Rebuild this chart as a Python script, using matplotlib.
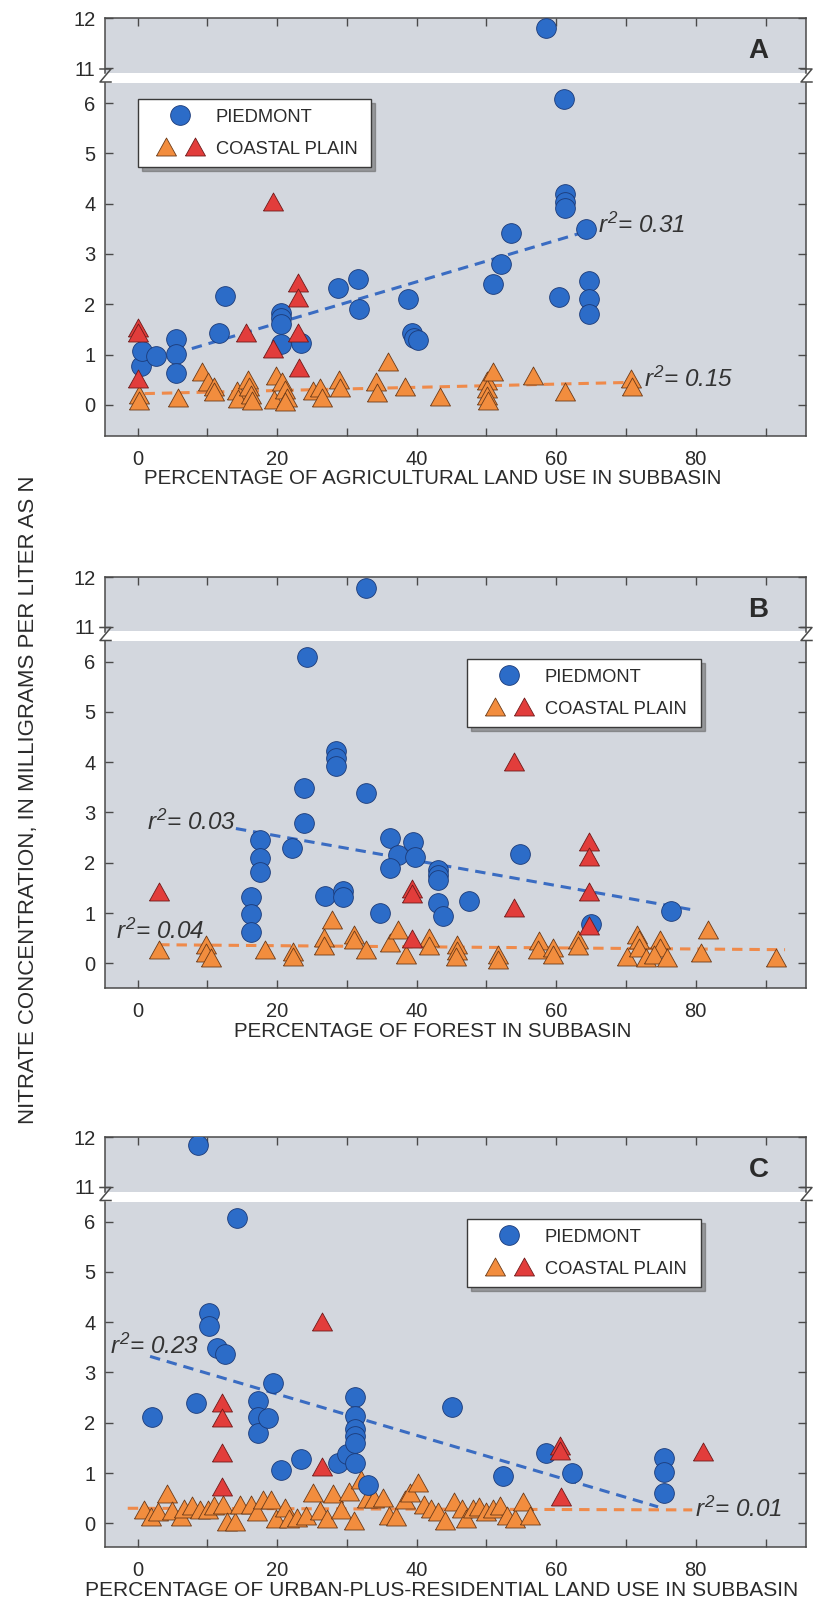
import matplotlib
matplotlib.use('Agg')
import matplotlib.pyplot as plt
from matplotlib.lines import Line2D
from matplotlib.legend_handler import HandlerTuple
import numpy as np

plt.rcParams['font.family'] = ['Liberation Sans', 'DejaVu Sans']
plt.rcParams['mathtext.fontset'] = 'custom'
plt.rcParams['mathtext.rm'] = 'Liberation Sans:italic'
plt.rcParams['mathtext.it'] = 'Liberation Sans:italic'
plt.rcParams['lines.scale_dashes'] = False

# ---------------- data ----------------
# Panel A: agricultural land use
a_blue_x = [0.5, 0.7, 2.65, 5.5, 5.5, 5.5, 11.7, 12.6, 20.6, 20.6, 20.6, 20.6, 23.4,
            28.8, 31.6, 31.7, 38.7, 39.3, 39.6, 40.2, 51.0, 52.1, 53.5, 60.4, 61.1,
            61.2, 61.2, 61.2, 64.3, 64.7, 64.7, 64.7, 58.5]
a_blue_y = [0.78, 1.07, 0.98, 1.30, 1.02, 0.63, 1.42, 2.16, 1.82, 1.72, 1.60, 1.21, 1.22,
            2.33, 2.51, 1.91, 2.10, 1.43, 1.33, 1.29, 2.40, 2.80, 3.41, 2.15, 6.09,
            4.20, 4.03, 3.91, 3.49, 2.46, 2.10, 1.80, 11.80]
a_orange_x = [0.2, 0.2, 5.8, 9.3, 10.1, 10.9, 11.0, 14.3, 14.4, 15.8, 16.0, 16.3, 16.4,
              19.6, 19.9, 20.7, 21.1, 21.4, 21.2, 25.2, 26.1, 26.4, 28.9, 29.0, 34.2,
              34.3, 35.9, 38.3, 43.3, 50.1, 50.1, 50.1, 50.2, 51.0, 56.7, 61.2, 70.7, 70.8]
a_orange_y = [0.20, 0.07, 0.13, 0.65, 0.45, 0.36, 0.25, 0.28, 0.12, 0.50, 0.36, 0.20, 0.08,
              0.10, 0.58, 0.46, 0.30, 0.14, 0.05, 0.27, 0.34, 0.14, 0.50, 0.34, 0.45,
              0.24, 0.86, 0.35, 0.15, 0.48, 0.32, 0.17, 0.08, 0.65, 0.58, 0.25, 0.52, 0.35]
a_red_x = [0.0, 0.0, 0.1, 15.6, 19.4, 19.4, 23.0, 23.0, 23.0, 23.1]
a_red_y = [1.53, 1.43, 0.52, 1.42, 4.03, 1.12, 2.43, 2.13, 1.42, 0.74]

# Panel B: forest
b_blue_x = [32.7, 24.25, 28.4, 28.4, 28.4, 23.9, 32.7, 23.9, 17.5, 17.5, 17.5, 22.2,
            16.2, 16.2, 16.2, 26.9, 29.4, 29.4, 34.7, 36.2, 37.3, 36.2, 39.5, 39.7,
            43.0, 43.0, 43.0, 43.1, 43.8, 47.5, 54.8, 65.0, 76.5]
b_blue_y = [11.78, 6.09, 4.23, 4.09, 3.93, 3.49, 3.39, 2.79, 2.45, 2.09, 1.81, 2.30,
            1.31, 0.99, 0.62, 1.33, 1.43, 1.31, 1.01, 2.49, 2.16, 1.89, 2.42, 2.11,
            1.85, 1.75, 1.65, 1.21, 0.94, 1.23, 2.18, 0.79, 1.05]
b_orange_x = [3.1, 9.8, 9.8, 10.5, 18.3, 22.3, 22.3, 26.7, 26.7, 27.8, 31.0, 31.0, 32.7,
              36.2, 37.4, 38.5, 41.8, 41.8, 45.8, 45.8, 45.7, 51.6, 51.6, 57.5, 57.4,
              59.5, 59.5, 63.1, 63.1, 71.6, 71.9, 70.2, 71.9, 72.9, 74.9, 74.9, 74.0,
              75.9, 80.7, 81.7, 91.5]
b_orange_y = [0.27, 0.37, 0.20, 0.10, 0.27, 0.23, 0.13, 0.50, 0.34, 0.87, 0.57, 0.47, 0.27,
              0.40, 0.67, 0.17, 0.50, 0.34, 0.37, 0.24, 0.13, 0.17, 0.07, 0.44, 0.27,
              0.30, 0.17, 0.47, 0.34, 0.57, 0.47, 0.13, 0.30, 0.10, 0.47, 0.30, 0.17,
              0.10, 0.20, 0.67, 0.10]
b_red_x = [3.1, 39.3, 39.3, 39.3, 54.0, 54.0, 64.7, 64.7, 64.7, 64.7]
b_red_y = [1.41, 1.48, 1.38, 0.48, 4.00, 1.11, 2.42, 2.12, 1.41, 0.74]

# Panel C: urban-plus-residential
c_blue_x = [8.6, 14.3, 10.3, 10.3, 11.4, 12.6, 2.1, 8.4, 19.4, 17.2, 17.2, 17.2, 18.7,
            20.5, 23.4, 28.7, 30.0, 31.2, 31.2, 31.2, 31.2, 31.2, 31.2, 33.1, 45.0,
            52.4, 58.5, 62.2, 75.4, 75.4, 75.4]
c_blue_y = [11.83, 6.07, 4.19, 3.92, 3.48, 3.37, 2.12, 2.39, 2.79, 2.44, 2.11, 1.79, 2.10,
            1.07, 1.27, 1.21, 1.38, 2.52, 2.14, 1.87, 1.74, 1.60, 1.20, 0.77, 2.31,
            0.95, 1.40, 1.01, 1.30, 1.02, 0.60]
c_orange_x = [0.9, 2.0, 3.0, 4.2, 4.9, 6.3, 6.7, 7.8, 8.9, 10.1, 10.9, 12.2, 12.8, 14.0,
              14.7, 16.2, 17.1, 18.0, 19.1, 19.8, 21.2, 21.7, 22.8, 24.1, 25.2, 26.2,
              27.1, 28.0, 29.1, 30.3, 31.0, 32.0, 32.9, 33.9, 35.2, 36.0, 37.1, 38.3,
              39.1, 40.2, 41.1, 42.1, 43.1, 44.1, 45.3, 46.5, 47.1, 48.1, 49.0, 50.0,
              51.0, 51.9, 52.9, 54.1, 55.2, 56.2]
c_orange_y = [0.26, 0.12, 0.22, 0.59, 0.24, 0.12, 0.29, 0.34, 0.27, 0.27, 0.34, 0.36, 0.03,
              0.03, 0.37, 0.36, 0.22, 0.46, 0.46, 0.09, 0.30, 0.09, 0.10, 0.14, 0.61,
              0.24, 0.09, 0.59, 0.26, 0.62, 0.05, 0.86, 0.48, 0.48, 0.50, 0.15, 0.12,
              0.46, 0.61, 0.81, 0.36, 0.28, 0.22, 0.05, 0.42, 0.28, 0.09, 0.28, 0.32,
              0.22, 0.28, 0.34, 0.14, 0.09, 0.42, 0.14]
c_red_x = [12.1, 12.1, 12.1, 12.1, 26.4, 26.4, 60.5, 60.6, 60.7, 81.1]
c_red_y = [2.39, 2.09, 1.40, 0.72, 4.00, 1.12, 1.54, 1.44, 0.52, 1.42]

# regression lines: (x start, x end, intercept, slope)
a_blue_fit = (5.4, 64.2, 0.798, 0.0412)
a_orange_fit = (1.0, 70.5, 0.22, 0.0032)
b_blue_fit = (14.1, 79.2, 3.029, -0.0247)
b_orange_fit = (3.1, 92.8, 0.3735, -0.0011)
c_blue_fit = (1.8, 74.6, 3.394, -0.0411)
c_orange_fit = (-1.4, 79.5, 0.2995, -0.0004)

# r-squared labels: (text, x, y)
a_r2 = [('0.31', 66.0, 3.57), ('0.15', 72.6, 0.50)]
b_r2 = [('0.03', 1.3, 2.80), ('0.04', -3.1, 0.64)]
c_r2 = [('0.23', -3.9, 3.53), ('0.01', 79.9, 0.28)]

x_labels = ['PERCENTAGE OF AGRICULTURAL LAND USE IN SUBBASIN',
            'PERCENTAGE OF FOREST IN SUBBASIN',
            'PERCENTAGE OF URBAN-PLUS-RESIDENTIAL LAND USE IN SUBBASIN']
y_label = 'NITRATE CONCENTRATION, IN MILLIGRAMS PER LITER AS N'

# ---------------- style ----------------
BG = '#d3d7de'
BLUE, BLUE_EDGE = '#2c6cc8', '#1b3a78'
ORANGE, ORANGE_EDGE = '#f28d3e', '#6b3a18'
RED, RED_EDGE = '#e23d3b', '#6e1a1a'
BLUE_LINE, ORANGE_LINE = '#3a6cc2', '#ef8a4a'
TXT = '#2b2b2b'
SPINE = '#4a4a4a'
TRI = [(-1, -0.85), (1, -0.85), (0, 0.95), (-1, -0.85)]
CIRCLE_MS = 14.2
TRI_MS = 14.4
LEG_FS = 13.2

W, H = 815, 1610
LEFT, RIGHT = 105, 806
XLIM = (-4.66, 95.8)
fig = plt.figure(figsize=(W / 100, H / 100), dpi=100)


def px_axes(left, top, right, bottom):
    return fig.add_axes([left / W, 1 - bottom / H, (right - left) / W, (bottom - top) / H])


def fig_line(xs, ys):
    fig.add_artist(Line2D([x / W for x in xs], [1 - y / H for y in ys],
                          transform=fig.transFigure, color=SPINE, lw=1.1))


def draw_panel(top, bottom, ybot, blue, orange, red, fits, r2, letter, legend_xy,
               xlabel, xlabel_x, xlabel_fs):
    up_bot = top + 54.5
    lo_top = up_bot + 10
    upper = px_axes(LEFT, top, RIGHT, up_bot)
    lower = px_axes(LEFT, lo_top, RIGHT, bottom)
    upper.set_ylim(10.9, 12.0)
    lower.set_ylim(ybot, 6.4)
    for ax in (upper, lower):
        ax.set_facecolor(BG)
        ax.set_xlim(*XLIM)
        for s in ax.spines.values():
            s.set_color(SPINE)
            s.set_linewidth(1.1)
        ax.set_xticks(np.arange(0, 81, 20))
        ax.set_xticks(np.arange(10, 91, 20), minor=True)
        ax.tick_params(which='both', direction='in', length=6, width=1.0, color=SPINE,
                       labelsize=14.5, labelcolor=TXT, left=True, right=True, pad=7)
        # fits
        for (x0, x1, b0, b1), col in zip(fits, (BLUE_LINE, ORANGE_LINE)):
            xs = np.array([x0, x1])
            ax.plot(xs, b0 + b1 * xs, color=col, lw=2.2, dashes=(7.5, 5), zorder=2)
        ax.plot(orange[0], orange[1], ls='none', marker=TRI, ms=TRI_MS, mfc=ORANGE,
                mec=ORANGE_EDGE, mew=0.6, zorder=3)
        ax.plot(blue[0], blue[1], ls='none', marker='o', ms=CIRCLE_MS, mfc=BLUE,
                mec=BLUE_EDGE, mew=0.6, zorder=4)
        ax.plot(red[0], red[1], ls='none', marker=TRI, ms=TRI_MS, mfc=RED,
                mec=RED_EDGE, mew=0.6, zorder=5)

    upper.spines['bottom'].set_visible(False)
    lower.spines['top'].set_visible(False)
    upper.set_yticks([11, 12])
    lower.set_yticks(range(0, 7))
    upper.tick_params(which='both', bottom=False, top=True, labelbottom=False)
    lower.tick_params(which='both', bottom=True, top=False, labelbottom=True)
    lower.tick_params(axis='x', which='both', pad=10)

    upper.text(89.0, 11.34, letter, ha='center', va='center', fontsize=20,
               fontweight='bold', color=TXT)

    for txt, x, y in r2:
        lower.text(x, y, r'$r^2$= ' + txt, ha='left', va='center', fontsize=17.5,
                   fontstyle='italic', color='#333333', zorder=6)

    h_pied = Line2D([], [], ls='none', marker='o', ms=CIRCLE_MS, mfc=BLUE,
                    mec=BLUE_EDGE, mew=0.6)
    h_or = Line2D([], [], ls='none', marker=TRI, ms=TRI_MS, mfc=ORANGE,
                  mec=ORANGE_EDGE, mew=0.6)
    h_red = Line2D([], [], ls='none', marker=TRI, ms=TRI_MS, mfc=RED,
                   mec=RED_EDGE, mew=0.6)
    leg = lower.legend([h_pied, (h_or, h_red)], ['PIEDMONT', 'COASTAL PLAIN'],
                       handler_map={tuple: HandlerTuple(ndivide=None, pad=-0.44)},
                       loc='upper left',
                       bbox_to_anchor=(legend_xy[0], legend_xy[1] - 0.01, 33.5, 0.01),
                       bbox_transform=lower.transData, borderaxespad=0, mode='expand',
                       fontsize=LEG_FS, frameon=True, fancybox=False,
                       edgecolor='#3a3a3a', facecolor='white', framealpha=1,
                       shadow={'ox': 3, 'oy': -3, 'color': '#5a5a5a'},
                       borderpad=0.52, handlelength=3.6, handletextpad=0.14,
                       labelspacing=0.82)
    leg.get_frame().set_linewidth(1.0)
    for t in leg.get_texts():
        t.set_color(TXT)
    leg.set_zorder(10)

    # axis-break marks
    for xs in (LEFT, RIGHT):
        fig_line([xs - 5, xs + 6, xs - 5, xs + 6],
                 [up_bot - 4, up_bot - 4, lo_top - 1, lo_top - 1])

    fig.text(xlabel_x / W, 1 - (bottom + 43) / H, xlabel, ha='center', va='center',
             fontsize=xlabel_fs, color=TXT)


draw_panel(18.5, 436, -0.62, (a_blue_x, a_blue_y), (a_orange_x, a_orange_y),
           (a_red_x, a_red_y), (a_blue_fit, a_orange_fit), a_r2, 'A', (0.0, 6.08),
           x_labels[0], 433, 14.8)
draw_panel(577, 988.5, -0.5, (b_blue_x, b_blue_y), (b_orange_x, b_orange_y),
           (b_red_x, b_red_y), (b_blue_fit, b_orange_fit), b_r2, 'B', (47.2, 6.05),
           x_labels[1], 433, 14.8)
draw_panel(1137, 1547, -0.47, (c_blue_x, c_blue_y), (c_orange_x, c_orange_y),
           (c_red_x, c_red_y), (c_blue_fit, c_orange_fit), c_r2, 'C', (47.2, 6.05),
           x_labels[2], 442, 15.1)

fig.text(29 / W, 1 - 800 / H, y_label, rotation=90, ha='center', va='center',
         fontsize=16, color=TXT)

fig.savefig('out.png', dpi=100, facecolor='white')
